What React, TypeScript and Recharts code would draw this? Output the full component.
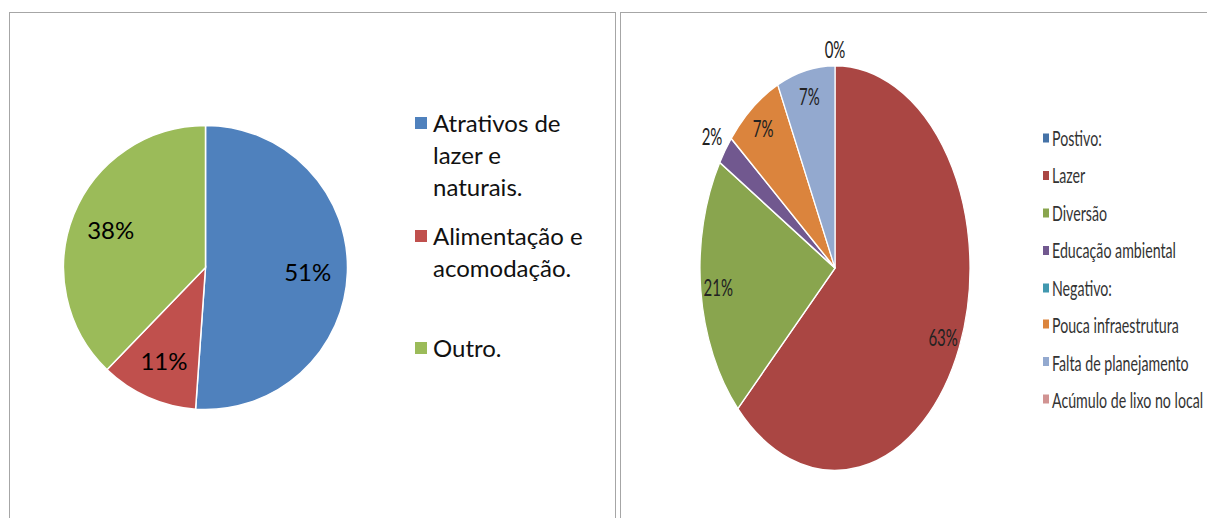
import React from "react";
import { PieChart, Pie, Cell, Legend } from "recharts";

const leftCategories = ["Atrativos de lazer e naturais.", "Alimentação e acomodação.", "Outro."];
const leftValues = [23, 5, 17];
const leftColors = ["#4F81BD", "#C0504D", "#9BBB59"];

const rightCategories = [
    "Postivo:",
    "Lazer",
    "Diversão",
    "Educação ambiental",
    "Negativo:",
    "Pouca infraestrutura",
    "Falta de planejamento",
    "Acúmulo de lixo no local",
];
const rightValues = [0, 27, 9, 1, 0, 3, 3, 0];
const rightColors = ["#4572A7", "#AA4643", "#89A54E", "#71588F", "#4198AF", "#DB843D", "#93A9CF", "#D19392"];

const RAD = Math.PI / 180;
const FONT = "Lato, 'Open Sans', sans-serif";
const SCALE_Y = 1.5;

const leftData = leftCategories.map((name, i) => ({ name, value: leftValues[i] }));
const rightData = rightCategories.map((name, i) => ({ name, value: rightValues[i] }));

function pct(p: number) {
    return `${Math.round(p * 100)}%`;
}

function leftLabel(props: any) {
    const { cx, cy, midAngle, outerRadius, percent } = props;
    const r = outerRadius * 0.72;
    const x = cx + r * Math.cos(-midAngle * RAD);
    const y = cy + r * Math.sin(-midAngle * RAD);
    return (
        <text x={x} y={y} fill="#000" fontSize={24} fontFamily={FONT} textAnchor="middle" dominantBaseline="central">
            {pct(percent)}
        </text>
    );
}

function rightLabel(props: any) {
    const { cx, cy, midAngle, outerRadius, percent, index } = props;
    // Excel hides the overlapping 0% labels, only the one at the top shows
    if (percent === 0 && index !== 0) return null;
    let r = outerRadius * 0.87;
    if (percent === 0) r = outerRadius * 1.08;
    else if (percent < 0.05) r = outerRadius * 1.12;
    const x = cx + r * Math.cos(-midAngle * RAD);
    const y = cy + r * Math.sin(-midAngle * RAD);
    return (
        <text x={x} y={y} fill="#222" fontSize={15} fontFamily={FONT} textAnchor="middle" dominantBaseline="central">
            {pct(percent)}
        </text>
    );
}

function LeftLegend() {
    return (
        <div style={{ fontFamily: FONT, fontSize: 24, color: "#111" }}>
            {leftCategories.map((name, i) => (
                <div key={name} style={{ height: 112.5, display: "flex", alignItems: "flex-start" }}>
                    <div style={{ width: 12, height: 12, background: leftColors[i], marginTop: 10, marginRight: 6, flexShrink: 0 }} />
                    <div style={{ lineHeight: "32px", width: 162 }}>{name}</div>
                </div>
            ))}
        </div>
    );
}

function RightLegend() {
    return (
        <div style={{ fontFamily: FONT, fontSize: 14.2, color: "#333" }}>
            {rightCategories.map((name, i) => (
                <div key={name} style={{ height: 24.9, display: "flex", alignItems: "center", whiteSpace: "nowrap" }}>
                    <div style={{ width: 6, height: 6, background: rightColors[i], marginRight: 3 }} />
                    <span>{name}</span>
                </div>
            ))}
        </div>
    );
}

export default function App() {
    return (
        <div style={{ position: "absolute", left: 0, top: 0, width: 1207, height: 518, background: "#fff", overflow: "hidden" }}>
            {/* left panel */}
            <div
                style={{
                    position: "absolute",
                    left: 9,
                    top: 12,
                    width: 607,
                    height: 520,
                    border: "1.5px solid #A6A6A6",
                    boxSizing: "border-box",
                }}
            />
            <div style={{ position: "absolute", left: 10, top: 12 }}>
                <PieChart width={607} height={506} margin={{ top: 0, right: 0, bottom: 0, left: 0 }}>
                    <Pie
                        data={leftData}
                        dataKey="value"
                        nameKey="name"
                        cx={195.5}
                        cy={255.5}
                        outerRadius={142}
                        startAngle={90}
                        endAngle={-270}
                        stroke="#fff"
                        strokeWidth={1.5}
                        label={leftLabel}
                        labelLine={false}
                        isAnimationActive={false}
                    >
                        {leftData.map((entry, index) => (
                            <Cell key={`l-${index}`} fill={leftColors[index]} />
                        ))}
                    </Pie>
                    <Legend
                        layout="vertical"
                        align="right"
                        verticalAlign="middle"
                        content={() => <LeftLegend />}
                        wrapperStyle={{ left: 405, top: 95, width: 190, right: "auto", bottom: "auto" }}
                    />
                </PieChart>
            </div>

            {/* right panel */}
            <div
                style={{
                    position: "absolute",
                    left: 620,
                    top: 12,
                    width: 600,
                    height: 520,
                    borderTop: "1.5px solid #A6A6A6",
                    borderLeft: "1.5px solid #A6A6A6",
                    boxSizing: "border-box",
                }}
            />
            <div
                style={{
                    position: "absolute",
                    left: 622,
                    top: 12,
                    width: 585,
                    height: 506 / SCALE_Y,
                    transform: `scaleY(${SCALE_Y})`,
                    transformOrigin: "top left",
                }}
            >
                <PieChart width={585} height={506 / SCALE_Y} margin={{ top: 0, right: 0, bottom: 0, left: 0 }}>
                    <Pie
                        data={rightData}
                        dataKey="value"
                        nameKey="name"
                        cx={213}
                        cy={170.7}
                        outerRadius={135}
                        startAngle={90}
                        endAngle={-270}
                        stroke="#fff"
                        strokeWidth={1.2}
                        label={rightLabel}
                        labelLine={false}
                        isAnimationActive={false}
                    >
                        {rightData.map((entry, index) => (
                            <Cell key={`r-${index}`} fill={rightColors[index]} />
                        ))}
                    </Pie>
                    <Legend
                        layout="vertical"
                        align="right"
                        verticalAlign="middle"
                        content={() => <RightLegend />}
                        wrapperStyle={{ left: 421, top: 71.5, width: 170, right: "auto", bottom: "auto" }}
                    />
                </PieChart>
            </div>
        </div>
    );
}
